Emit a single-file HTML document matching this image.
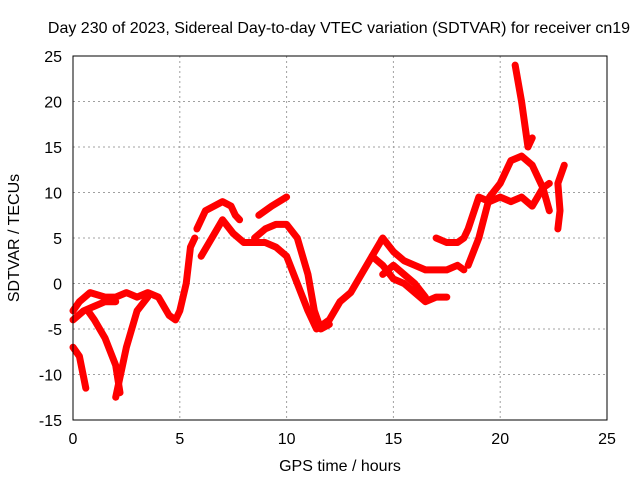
<!DOCTYPE html>
<html><head><meta charset="utf-8"><style>
body{margin:0;background:#fff}
text{font-family:"Liberation Sans",sans-serif;font-size:16px;fill:#000}
</style></head><body>
<svg width="640" height="480">
<rect width="640" height="480" fill="#fff"/>
<text x="339" y="33" text-anchor="middle">Day 230 of 2023, Sidereal Day-to-day VTEC variation (SDTVAR) for receiver cn19</text>
<g id="grid"></g>
<g id="series"></g>
<rect x="73" y="56" width="534" height="364" fill="none" stroke="#000"/>
<g id="axes"></g>
<text x="340" y="471" text-anchor="middle">GPS time / hours</text>
<text x="19" y="238" text-anchor="middle" transform="rotate(-90 19 238)">SDTVAR / TECUs</text>
</svg>
<script>
const xTicks=[0,5,10,15,20,25];
const yTicks=[-15,-10,-5,0,5,10,15,20,25];
const tracks=[
[[0,-3],[0.3,-2],[0.8,-1],[1.5,-1.5],[2,-1.5],[2.5,-1],[3,-1.5],[3.5,-1],[4,-1.5],[4.5,-3.5],[4.8,-4],[5,-3],[5.3,0],[5.5,4],[5.7,5]],
[[5.8,6],[6.2,8],[7,9],[7.4,8.5],[7.6,7.5],[7.8,7]],
[[6,3],[6.5,5],[7,7],[7.5,5.5],[8,4.5],[9,4.5],[9.5,4],[10,3],[10.5,0],[11,-3],[11.4,-5],[12,-4],[12.5,-2],[13,-1],[13.5,1],[14,3],[14.5,5],[15,3.5],[15.5,2.5],[16,2],[16.5,1.5],[17,1.5],[17.5,1.5],[18,2],[18.3,1.5]],
[[8.5,5],[9,6],[9.5,6.5],[10,6.5],[10.5,5],[11,1],[11.3,-3],[11.6,-5],[12,-4.5]],
[[8.7,7.5],[9.3,8.5],[10,9.5]],
[[0,-7],[0.3,-8],[0.6,-11.5]],
[[0.7,-3],[1,-4],[1.5,-6],[2,-9],[2.2,-12]],
[[2.0,-12.5],[2.5,-7],[3,-3],[3.5,-1.5]],
[[0,-4],[0.5,-3],[1,-2.5],[1.5,-2],[2,-2]],
[[14,3],[14.5,2],[15,0.5],[15.5,0],[16,-1],[16.5,-2],[17,-1.5],[17.5,-1.5]],
[[14.5,1],[15,2],[15.5,1],[16,0],[16.5,-1.5]],
[[17,5],[17.5,4.5],[18,4.5],[18.3,5],[18.5,6],[19,9.5],[19.5,9],[20,9.5],[20.5,9],[21,9.5],[21.5,8.5],[22,10.5],[22.3,11]],
[[18.5,2],[19,5],[19.5,9.5],[20,11],[20.5,13.5],[21,14],[21.5,13],[22,10.5],[22.3,8]],
[[20.7,24],[21,20],[21.3,15],[21.5,16]],
[[22.7,6],[22.8,8],[22.7,11],[23,13]]
];
const X=v=>73+v*534/25, Y=v=>420-(v+15)*364/40;
const NS='http://www.w3.org/2000/svg';
const g=document.getElementById('grid'),ax=document.getElementById('axes'),s=document.getElementById('series');
function mk(tag,at,par){const e=document.createElementNS(NS,tag);for(const k in at)e.setAttribute(k,at[k]);par.appendChild(e);return e;}
xTicks.forEach(t=>{
 const l=mk('line',{x1:X(t),x2:X(t),y1:56,y2:420,stroke:'#a0a0a0','stroke-dasharray':'2,3'},g);
 
 
 const tx=mk('text',{x:X(t),y:444,'text-anchor':'middle'},ax);tx.textContent=t;
 
 
});
yTicks.forEach(t=>{
 const l=mk('line',{x1:73,x2:607,y1:Y(t),y2:Y(t),stroke:'#a0a0a0','stroke-dasharray':'2,3'},g);
 
 
 const tx=mk('text',{x:62,y:Y(t)+6,'text-anchor':'end'},ax);tx.textContent=t;
 
 
});
tracks.forEach(tr=>{
 const p=mk('polyline',{points:tr.map(d=>X(d[0])+','+Y(d[1])).join(' '),fill:'none',stroke:'#f00','stroke-width':7,'stroke-linejoin':'round','stroke-linecap':'round'},s);
 
 
});
</script>
</body></html>
